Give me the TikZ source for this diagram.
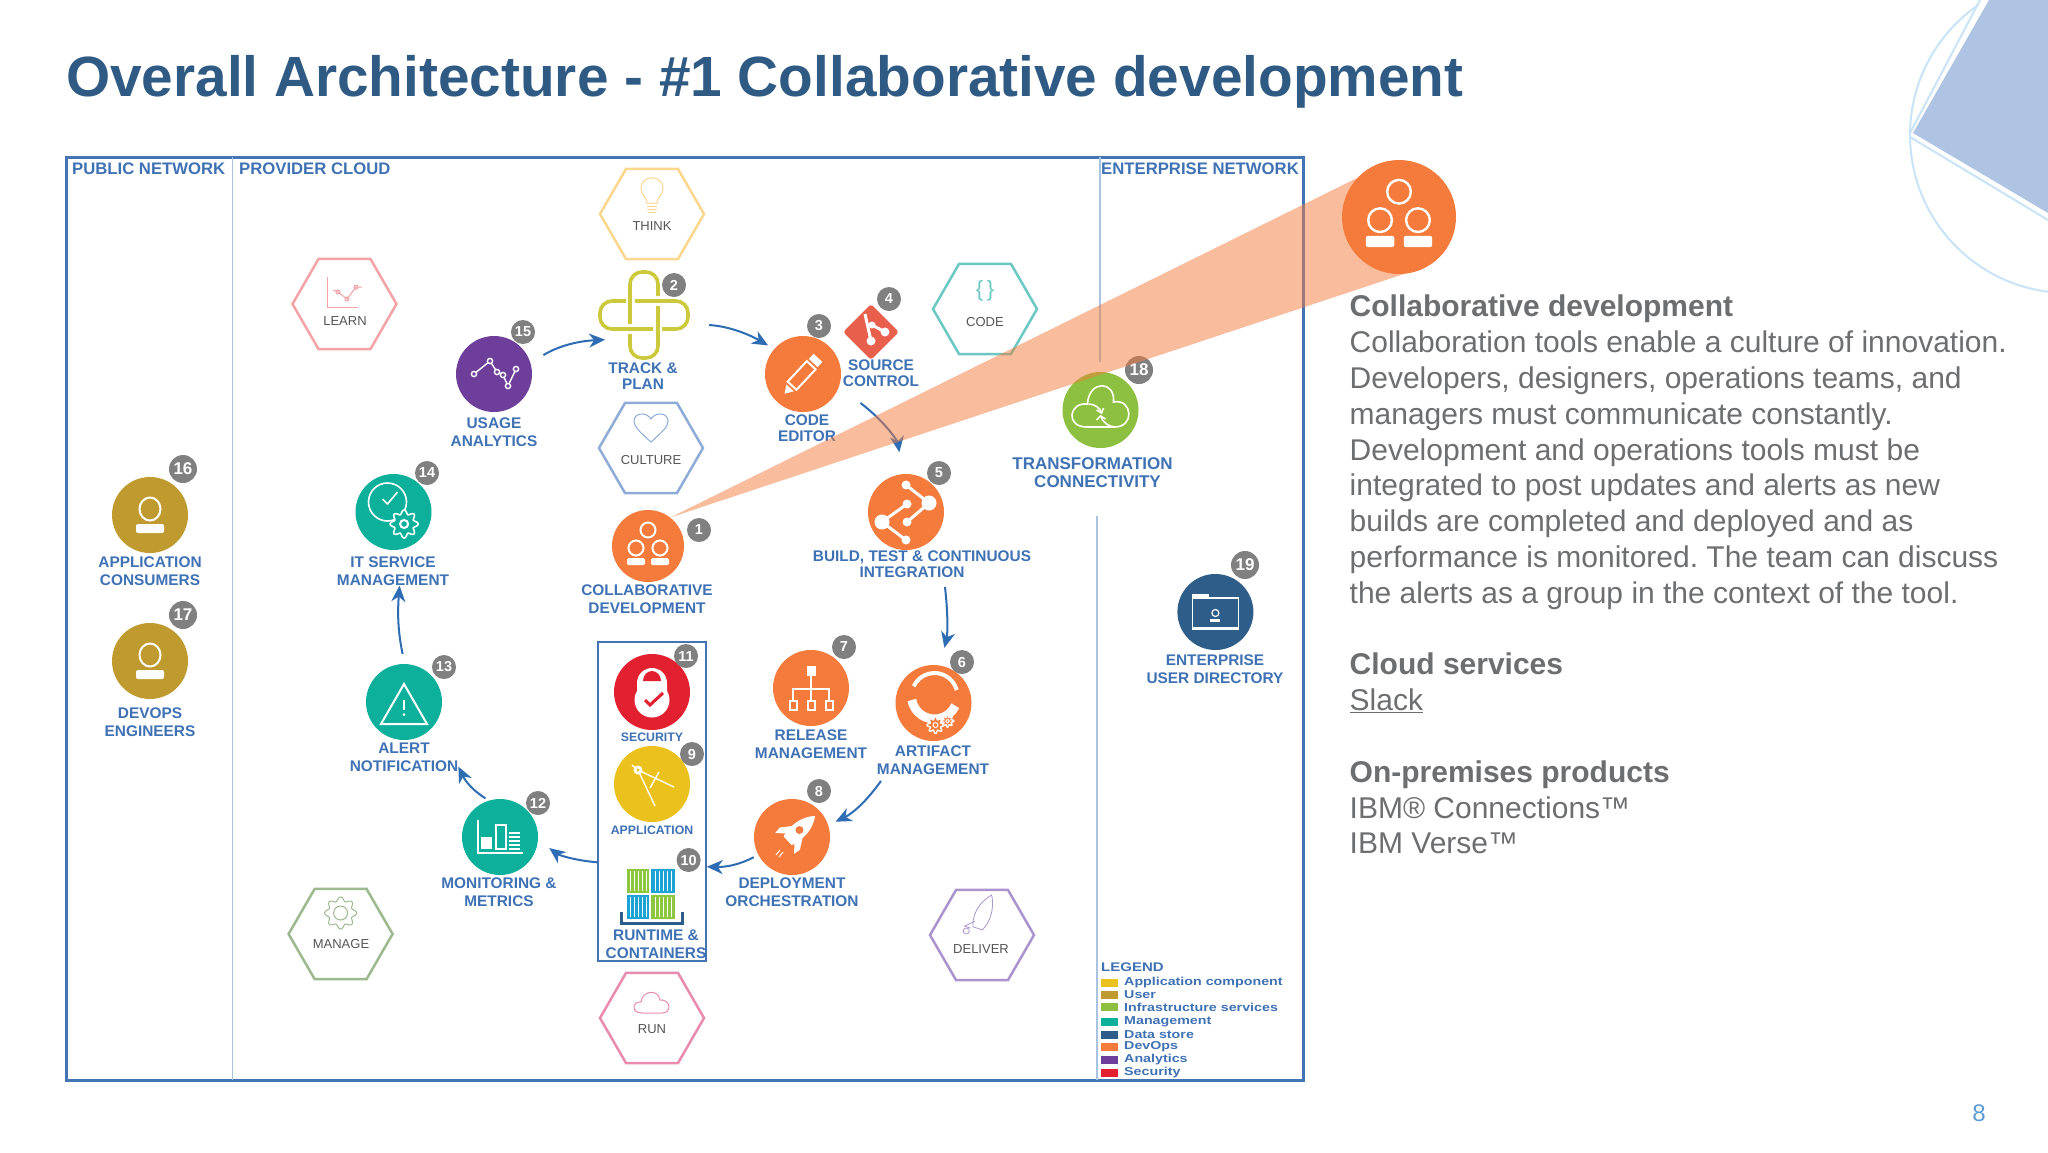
\documentclass[tikz,border=0pt]{standalone}
\usepackage{fontspec}
\setmainfont{Liberation Sans}
\usetikzlibrary{arrows.meta,shapes.geometric}
\definecolor{labblue}{HTML}{3F72B5}
\definecolor{flowblue}{HTML}{2E6DB4}
\definecolor{framec}{HTML}{4474B4}
\definecolor{sepc}{HTML}{A9C3E0}
\definecolor{titlec}{HTML}{2E5A84}
\definecolor{bodyc}{HTML}{6D6E70}
\definecolor{badgec}{HTML}{808080}
\definecolor{orangec}{HTML}{F47B3B}
\definecolor{goldc}{HTML}{BF9A2E}
\definecolor{tealc}{HTML}{0DB09B}
\definecolor{purplec}{HTML}{6E3F9A}
\definecolor{greenc}{HTML}{8DC040}
\definecolor{navyc}{HTML}{2F5D8A}
\definecolor{redc}{HTML}{E3202F}
\definecolor{yellowc}{HTML}{EBC11D}
\definecolor{gitc}{HTML}{E8604C}
\definecolor{trackc}{HTML}{CCC93C}
\definecolor{hthink}{HTML}{FBD68D}
\definecolor{hlearn}{HTML}{F4A3A6}
\definecolor{hculture}{HTML}{8FABD8}
\definecolor{hcode}{HTML}{6BC8C2}
\definecolor{hmanage}{HTML}{9DB98F}
\definecolor{hrun}{HTML}{E98BB0}
\definecolor{hdeliver}{HTML}{AB94CE}
\definecolor{hextext}{HTML}{555555}
\definecolor{decofill}{HTML}{AEC4E2}
\definecolor{decoline}{HTML}{C9E3F7}
\definecolor{pagec}{HTML}{5B9BD5}
\definecolor{contgreen}{HTML}{8DC63F}
\definecolor{contblue}{HTML}{1AA3D4}
\newcommand{\gearpath}[2]{plot[domain=0:360,samples=120,smooth] ({(#1+#2*cos(8*\x))*cos(\x)},{(#1+#2*cos(8*\x))*sin(\x)})}
\newcommand{\collabicon}{%
  \draw[ico] (0,16) circle (7.5);
  \draw[ico] (-12,-2) circle (7.5);
  \draw[ico] (12,-2) circle (7.5);
  \fill[white,rounded corners=1.5pt] (-21,-19) rectangle (-3,-12);
  \fill[white,rounded corners=1.5pt] (3,-19) rectangle (21,-12);}
\newcommand{\personicon}{%
  \draw[ico] (0,6) ellipse (10.5 and 11.5);
  \fill[white,rounded corners=2pt] (-14,-18) rectangle (14,-9);}
\tikzset{
  ico/.style={draw=white,line width=2pt},
  thin ico/.style={draw=white,line width=1.4pt},
  dev/.style={circle,minimum size=76pt,inner sep=0pt,fill=#1},
  badge/.style={circle,fill=badgec,text=white,minimum size=24pt,inner sep=0pt,font=\fontsize{14.5}{15}\selectfont\bfseries},
  bigbadge/.style={badge,minimum size=28pt,font=\fontsize{17}{18}\selectfont\bfseries},
  lab/.style={text=labblue,align=center,inner sep=0pt,font=\fontsize{15.4}{18}\selectfont\bfseries},
  tightlab/.style={lab,font=\fontsize{15.4}{16}\selectfont\bfseries},
  widelab/.style={lab,font=\fontsize{17}{18}\selectfont\bfseries},
  smalllab/.style={lab,font=\fontsize{12.3}{14}\selectfont\bfseries},
  zone/.style={text=labblue,anchor=west,inner sep=0pt,font=\fontsize{16.7}{18}\selectfont\bfseries},
  hexa/.style={regular polygon,regular polygon sides=6,minimum size=104pt,inner sep=0pt,draw=#1,line width=2.5pt},
  hexlab/.style={text=hextext,inner sep=0pt,font=\fontsize{13}{14}\selectfont},
  flow/.style={-{Stealth[length=16pt,width=14pt,inset=5pt]},draw=flowblue,line width=2pt},
  legswatch/.style={minimum width=17pt,minimum height=8pt,inner sep=0pt,fill=#1},
  legtext/.style={text=labblue,anchor=west,inner sep=0pt,font=\fontsize{11.5}{12}\selectfont\bfseries},
}
\begin{document}
\begin{tikzpicture}[x=1pt,y=1pt]
\useasboundingbox (0,0) rectangle (2048,-1152);
\fill[white] (0,0) rectangle (2048,-1152);
% decoration top right
\begin{scope}
\clip (0,0) rectangle (2048,-1152);
\draw[decoline,line width=2pt] (2068,-135) circle (158);
\fill[white] (1911,-135) -- (1982,2) -- (2060,2) -- (2060,-225) -- cycle;
\draw[decoline,line width=2pt] (1910,-133) -- (1980,0);
\draw[decoline,line width=2pt] (1910,-137) -- (2048,-220);
\fill[decofill] (1913,-133) -- (1989,0) -- (2048,0) -- (2048,-213) -- cycle;
\end{scope}
% title
\node[anchor=base west,inner sep=0pt,text=titlec,font=\fontsize{56.75}{60}\selectfont\bfseries] (title) at (66,-96) {Overall Architecture - \#1 Collaborative development};
% frame
\draw[framec,line width=3pt] (66,-157) rectangle (1303,-1080);
\draw[sepc,line width=1.3pt] (232.5,-157) -- (232.5,-1080);
\draw[sepc,line width=1.3pt] (1100,-157) -- (1100,-362);
\draw[sepc,line width=1.3pt] (1097,-516) -- (1097,-1080);
\node[zone] (zpublic) at (72,-169) {PUBLIC NETWORK};
\node[zone] (zprovider) at (239,-169) {PROVIDER CLOUD};
\node[zone] (zenterprise) at (1101,-169) {ENTERPRISE NETWORK};
% hexagons
\node[hexa=hthink] (hthinkn) at (652,-214) {};
\node[hexa=hlearn] (hlearnn) at (344.5,-304) {};
\node[hexa=hculture] (hculturen) at (651,-448) {};
\node[hexa=hcode] (hcoden) at (985,-309) {};
\node[hexa=hmanage] (hmanagen) at (340.6,-934) {};
\node[hexa=hrun] (hrunn) at (652,-1018) {};
\node[hexa=hdeliver] (hdelivern) at (982,-935) {};
\node[hexlab] (tthink) at (652,-226) {THINK};
\node[hexlab] (tlearn) at (345,-321) {LEARN};
\node[hexlab] (tculture) at (651,-460) {CULTURE};
\node[hexlab] (tcode) at (985,-322) {CODE};
\node[hexlab] (tmanage) at (341,-944) {MANAGE};
\node[hexlab] (trun) at (652,-1029) {RUN};
\node[hexlab] (tdeliver) at (981,-949) {DELIVER};
% hexagon glyphs
\begin{scope}[draw=hthink,line width=1pt]
\draw (647,-203) .. controls (647,-197) and (641,-194) .. (641,-189) .. controls (641,-174) and (663,-174) .. (663,-189) .. controls (663,-194) and (657,-197) .. (657,-203) -- cycle;
\draw (647,-206) -- (657,-206) (647,-209) -- (657,-209) (648,-212) -- (656,-212);
\end{scope}
\begin{scope}[draw=hlearn,line width=1pt]
\draw (327,-277) -- (327,-307) -- (358,-307);
\draw (333,-290) -- (338,-292) -- (347,-299) -- (356,-287) -- (362,-287);
\draw (338,-292) circle (2) (347,-299) circle (2) (356,-287) circle (2);
\end{scope}
\draw[hculture,line width=1pt] (651,-442) .. controls (640,-432) and (634,-427) .. (634,-421) .. controls (634,-413) and (646,-411) .. (651,-419) .. controls (656,-411) and (668,-413) .. (668,-421) .. controls (668,-427) and (662,-432) .. (651,-442) -- cycle;
\node[inner sep=0pt,text=hcode,font=\fontsize{22}{24}\selectfont] (tbrace) at (985,-291) {\{\,\}};
\begin{scope}[shift={(340.6,-913)},draw=hmanage,line width=1pt]
\draw \gearpath{14}{2} -- cycle;
\draw (0,0) circle (7);
\end{scope}
\begin{scope}[shift={(652,-1003)},draw=hrun,line width=1pt]
\draw (-10,-10) .. controls (-21,-10) and (-20,2) .. (-11,1) .. controls (-10,13) and (7,14) .. (8,3) .. controls (19,4) and (20,-10) .. (10,-10) -- cycle;
\end{scope}
\begin{scope}[shift={(982,-915)},rotate=-18,draw=hdeliver,line width=.8pt]
\draw (3,22) .. controls (11,8) and (9,-6) .. (5,-14) -- (-5,-14) .. controls (-9,-4) and (-8,10) .. (3,22) -- cycle;
\draw (-5,-8) -- (-13,-16) -- (-7,-16);
\draw (-10,-20) circle (3);
\end{scope}
% track and plan glyph
\node[circle,minimum size=90pt,inner sep=0pt] (n2) at (644,-315) {};
\begin{scope}[shift={(n2.center)},trackc,line width=3.6pt,rounded corners=12pt]
\draw (-18,14) -- (-44,14) -- (-44,-14) -- (9,-14);
\draw (-14,-9) -- (-14,43) -- (14,43) -- (14,19);
\draw (-9,14) -- (44,14) -- (44,-14) -- (18,-14);
\draw (14,9) -- (14,-43) -- (-14,-43) -- (-14,-19);
\end{scope}
% service circles
\node[dev=goldc] (n16) at (150,-515) {};
\node[dev=goldc] (n17) at (150,-661) {};
\node[dev=tealc] (n14) at (393.5,-512) {};
\node[dev=purplec] (n15) at (494,-374) {};
\node[dev=orangec,minimum size=72pt] (n1) at (648,-546) {};
\node[dev=orangec] (n3) at (803,-374) {};
\node[diamond,aspect=1,fill=gitc,rounded corners=3pt,minimum size=56pt,inner sep=0pt] (n4) at (871,-332) {};
\node[dev=orangec] (n5) at (906,-512) {};
\node[dev=greenc] (n18) at (1100.5,-410) {};
\node[dev=navyc] (n19) at (1215.4,-612) {};
\node[dev=tealc] (n13) at (404,-702) {};
\node[dev=tealc] (n12) at (500,-837) {};
\node[draw=framec,line width=1.5pt,minimum width=108pt,minimum height=319pt,inner sep=0pt] (box) at (652,-801.5) {};
\node[dev=redc] (n11) at (652,-692) {};
\node[dev=yellowc] (n9) at (652,-784) {};
\node[dev=orangec] (n7) at (811,-688) {};
\node[dev=orangec] (n6) at (933.5,-703) {};
\node[dev=orangec] (n8) at (792,-837) {};
% glyphs
\begin{scope}[shift={(n16.center)}]\personicon\end{scope}
\begin{scope}[shift={(n17.center)}]\personicon\end{scope}
\begin{scope}[shift={(n1.center)}]\collabicon\end{scope}
\begin{scope}[shift={(n14.center)}]
\draw[ico,line width=1.6pt] (-6,10) circle (19);
\draw[ico,line width=1.6pt] (-11,13) -- (-6,8) -- (4,20);
\begin{scope}[shift={(10.6,-12)}]
\draw[ico,line width=1.6pt,fill=tealc] \gearpath{12}{2} -- cycle;
\draw[ico] (0,0) circle (4);
\end{scope}
\end{scope}
\begin{scope}[shift={(n15.center)}]
\draw[thin ico] (-20,0) -- (-4,13) -- (3,2) -- (9,-1) -- (14,-12) -- (22,5);
\foreach \p in {(-20,0),(-4,13),(3,2),(9,-1),(14,-12),(22,5)} \draw[thin ico,fill=purplec] \p circle (2.6);
\end{scope}
\begin{scope}[shift={(n3.center)},rotate=47]
\draw[ico] (-16,-6) rectangle (12,6);
\fill[white] (15,-6) rectangle (22,6);
\fill[white] (-27,0) -- (-19,-5) -- (-19,5) -- cycle;
\end{scope}
\begin{scope}[shift={(n4.center)}]
\draw[white,line width=3pt] (-6,18) -- (0,-9) (1,7) -- (14,0);
\fill[white] (0,-9) circle (4.5) (14,0) circle (4.5) (1,7) circle (3.5);
\end{scope}
\begin{scope}[shift={(n5.center)}]
\draw[white,line width=3pt] (0,27) -- (23,9) -- (1,-10) (-24,-10) -- (1,8) (-24,-10) -- (0,-28);
\fill[white] (-24,-10) circle (7.5) (23,9) circle (7.5) (0,27) circle (4.5) (0,-28) circle (4.5) (1,8) circle (4.5) (1,-10) circle (4.5);
\end{scope}
\begin{scope}[shift={(n18.center)}]
\draw[ico,line width=1.6pt] (-14,-17) .. controls (-35,-17) and (-32,8) .. (-13,6) .. controls (-12,30) and (15,30) .. (13,8) .. controls (32,12) and (35,-18) .. (13,-17) -- cycle;
\draw[ico,line width=1.6pt] (-12,6) .. controls (-6,6) and (0,2) .. (1,-3);
\draw[ico,line width=1.6pt] (-4,0) -- (1,-3) -- (3,2);
\draw[ico,line width=1.6pt] (15,-17) .. controls (8,-17) and (2,-12) .. (0,-6);
\draw[ico,line width=1.6pt] (-4,-10) -- (0,-6) -- (5,-9);
\end{scope}
\begin{scope}[shift={(n19.center)}]
\draw[ico,line width=1.6pt] (-23,-17) rectangle (23,14);
\fill[white] (-23,13) rectangle (-6,18);
\draw[white,line width=1.2pt] (0,-1) circle (3.5);
\fill[white] (-5,-10) rectangle (5,-7);
\fill[white] (-23,-18) rectangle (23,-15);
\end{scope}
\begin{scope}[shift={(n13.center)}]
\draw[ico,line join=miter] (0,18) -- (23,-22) -- (-23,-22) -- cycle;
\draw[white,line width=2.5pt] (0,2) -- (0,-8);
\fill[white] (0,-12.5) circle (1.5);
\end{scope}
\begin{scope}[shift={(n12.center)}]
\draw[thin ico] (-22,17) -- (-22,-16) -- (23,-16);
\fill[white] (-19,-12) rectangle (-8,0);
\draw[thin ico] (-4,-12) rectangle (6,12);
\foreach \yy in {-12,-8,-4,0,4} \draw[white,line width=1.6pt] (9,\yy) -- (20,\yy);
\end{scope}
\begin{scope}[shift={(n11.center)}]
\fill[white] (0,-8) circle (17.5);
\fill[white] (-15,-4) -- (-15,9) arc (180:0:15) -- (15,-4) -- cycle;
\fill[redc] (-9,11) arc (180:0:9 and 10) -- cycle;
\draw[redc,line width=3pt] (-7,-8) -- (-2,-13) -- (11,-1);
\end{scope}
\begin{scope}[shift={(n9.center)}]
\draw[thin ico] (-14,14) -- (3,-22) (-14,14) -- (22,-3) (7,12) -- (-2,-4) (-20,19) -- (-14,14);
\fill[white] (-14,14) circle (4.5);
\fill[yellowc] (-14,14) circle (1.6);
\end{scope}
\begin{scope}[shift={(n7.center)}]
\fill[white] (-4,12) rectangle (5,22);
\draw[thin ico] (0,12) -- (0,-1) (-18,-13) -- (-18,-1) -- (18,-1) -- (18,-13) (0,-1) -- (0,-13);
\foreach \xx in {-18,0,18} \draw[ico] (\xx-3.5,-22) rectangle (\xx+3.5,-13);
\end{scope}
\begin{scope}[shift={(n6.center)}]
\draw[white,line width=4pt] (1,7) ++(15:23) arc (15:155:23);
\draw[white,line width=9pt] (1,7) ++(190:23) arc (190:335:23);
\begin{scope}[shift={(2,-22)}]
\draw[thin ico,fill=orangec] \gearpath{7}{1.5} -- cycle;
\draw[ico,line width=1pt] (0,0) circle (2.5);
\end{scope}
\begin{scope}[shift={(14,-18)}]
\draw[thin ico,fill=orangec] \gearpath{5}{1.2} -- cycle;
\draw[ico,line width=1pt] (0,0) circle (1.8);
\end{scope}
\end{scope}
\begin{scope}[shift={(n8.center)}]
\begin{scope}[shift={(3,3)},rotate=-48]
\fill[white] (0,27) .. controls (10,15) and (9,0) .. (6,-10) -- (-6,-10) .. controls (-9,0) and (-10,15) .. (0,27) -- cycle;
\fill[white] (-8,3) -- (-15,-7) -- (-14,-14) -- (-6,-6) -- cycle;
\fill[white] (8,3) -- (15,-7) -- (14,-14) -- (6,-6) -- cycle;
\fill[orangec] (0,6) circle (4);
\end{scope}
\draw[white,line width=1pt] (-16,-18) -- (-12,-13) (-13,-20) -- (-9,-15);
\end{scope}
% containers
\coordinate (cont) at (650,-894);
\begin{scope}[shift={(cont)}]
\fill[contgreen] (-23,1) rectangle (-1,25);
\fill[contblue] (1,1) rectangle (25,25);
\fill[contblue] (-23,-25) rectangle (-1,-1);
\fill[contgreen] (1,-25) rectangle (25,-1);
\foreach \xx in {-20,-16,-12,-8,-4}{\draw[white,line width=.8pt] (\xx,3) -- (\xx,23); \draw[white,line width=.8pt] (\xx,-23) -- (\xx,-3);}
\foreach \xx in {5,9,13,17,21}{\draw[white,line width=.8pt] (\xx,3) -- (\xx,23); \draw[white,line width=.8pt] (\xx,-23) -- (\xx,-3);}
\draw[navyc,line width=3pt] (-29,-18) -- (-29,-29) -- (32,-29) -- (32,-18);
\end{scope}
% labels
\node[lab] (l16) at (150,-571) {APPLICATION\\CONSUMERS};
\node[lab] (l17) at (150,-722) {DEVOPS\\ENGINEERS};
\node[lab] (l14) at (393,-571) {IT SERVICE\\MANAGEMENT};
\node[lab] (l15) at (494,-432) {USAGE\\ANALYTICS};
\node[tightlab] (l2) at (643,-376) {TRACK \&\\PLAN};
\node[tightlab] (l3) at (807,-428) {CODE\\EDITOR};
\node[tightlab] (l4) at (881,-373) {SOURCE\\CONTROL};
\node[lab] (l1) at (647,-599) {COLLABORATIVE\\DEVELOPMENT};
\node[tightlab] (l5) at (922,-564) {BUILD, TEST \& CONTINUOUS\\INTEGRATION\hspace*{20pt}};
\node[widelab] (l18) at (1092.5,-473) {TRANSFORMATION\\\hspace*{10pt}CONNECTIVITY};
\node[lab] (l19) at (1215,-669) {ENTERPRISE\\USER DIRECTORY};
\node[lab] (l13) at (404,-757) {ALERT\\NOTIFICATION};
\node[lab] (l12) at (499,-892) {MONITORING \&\\METRICS};
\node[smalllab] (l11) at (652,-737) {SECURITY};
\node[smalllab] (l9) at (652,-830) {APPLICATION};
\node[lab] (l10) at (656,-944) {RUNTIME \&\\CONTAINERS};
\node[lab] (l7) at (811,-744) {RELEASE\\MANAGEMENT};
\node[lab] (l6) at (933,-760) {ARTIFACT\\MANAGEMENT};
\node[lab] (l8) at (792,-892) {DEPLOYMENT\\ORCHESTRATION};
% connectors
\coordinate (out4) at (860.5,-403);
\coordinate (out5) at (945,-587);
\coordinate (out6) at (881,-781);
\draw[flow,shorten <=15pt,shorten >=1pt] (n15.17) to[bend left=14] (n2.213);
\draw[flow,shorten <=21pt,shorten >=7pt] (n2.-12) to[bend left=14] (n3.139);
\draw[flow,shorten >=22pt] (out4) to[bend left=22] (n5.95);
\draw[flow,shorten >=18pt] (out5) to[bend left=10] (n6.80);
\draw[flow,shorten >=8pt] (out6) to[bend left=14] (n8.18);
\draw[flow,shorten <=5pt] (n8.208) to[bend left=14] (box.-50);
\draw[flow,shorten >=14pt] (box.228) to[bend left=16] (n12.-4);
\draw[flow,shorten <=4pt] (n12.107) to[bend left=16] (l13.-10);
\draw[flow,shorten <=10pt] (n13.89) to[bend left=8] (l14.-66);
% badges
\foreach \nm/\xx/\yy/\tx in {b1/699/530/1,b2/674/285/2,b3/819/326/3,b4/889/299/4,b5/939/473/5,b6/962/662/6,b7/844/647/7,b8/819/791/8,b9/692/754/9,b10/688.6/860/10,b11/686/656/11,b12/538/803/12,b13/444/667/13,b14/427/473/14,b15/523/332/15}
  \node[badge] (\nm) at (\xx,-\yy) {\tx};
\foreach \nm/\xx/\yy/\tx in {b16/183/469/16,b17/183/615/17,b18/1139/370/18,b19/1245/565/19}
  \node[bigbadge] (\nm) at (\xx,-\yy) {\tx};
% legend
\node[anchor=west,inner sep=0pt,text=labblue,font=\fontsize{12.5}{13}\selectfont\bfseries] (leghead) at (1101,-967) {\scalebox{1.2}[1]{LEGEND}};
\foreach \nm/\cc/\yy/\tx in {la/yellowc/983/Application component,lb/goldc/995/User,lc/greenc/1007/Infrastructure services,ld/tealc/1022/Management,le/navyc/1035/Data store,lf/orangec/1047/DevOps,lg/purplec/1060/Analytics,lh/redc/1073/Security}{
  \node[legswatch=\cc] (\nm s) at (1109.5,-\yy) {};
  \node[legtext] (\nm t) at (1124,-\yy) {\scalebox{1.24}[1]{\tx}};
}
% beam and big icon
\coordinate (beamtop) at (1357,-178);
\coordinate (beambot) at (1407,-273);
\fill[orangec,opacity=.5] (n1.52) -- (beamtop) -- (beambot) -- cycle;
\node[dev=orangec,minimum size=114pt] (big) at (1399,-217) {};
\begin{scope}[shift={(big.center)},scale=1.58]
\draw[ico,line width=2.4pt] (0,16) circle (7.5);
\draw[ico,line width=2.4pt] (-12,-2) circle (7.5);
\draw[ico,line width=2.4pt] (12,-2) circle (7.5);
\fill[white,rounded corners=2pt] (-21,-19) rectangle (-3,-12);
\fill[white,rounded corners=2pt] (3,-19) rectangle (21,-12);
\end{scope}
% right text
\node[anchor=north west,inner sep=0pt,align=left,text=bodyc,font=\fontsize{30}{35.8}\selectfont] (desc) at (1349.5,-295) {%
{\bfseries Collaborative development}\\
Collaboration tools enable a culture of innovation.\\
Developers, designers, operations teams, and\\
managers must communicate constantly.\\
Development and operations tools must be\\
integrated to post updates and alerts as new\\
builds are completed and deployed and as\\
performance is monitored.\ The team can discuss\\
the alerts as a group in the context of the tool.\\
\mbox{}\\
{\bfseries Cloud services}\\
\underline{Slack}\\
\mbox{}\\
{\bfseries On-premises products}\\
IBM® Connections™\\
IBM Verse™};
\node[inner sep=0pt,text=pagec,font=\fontsize{24}{26}\selectfont] (pageno) at (1979,-1113) {8};
\end{tikzpicture}
\end{document}
